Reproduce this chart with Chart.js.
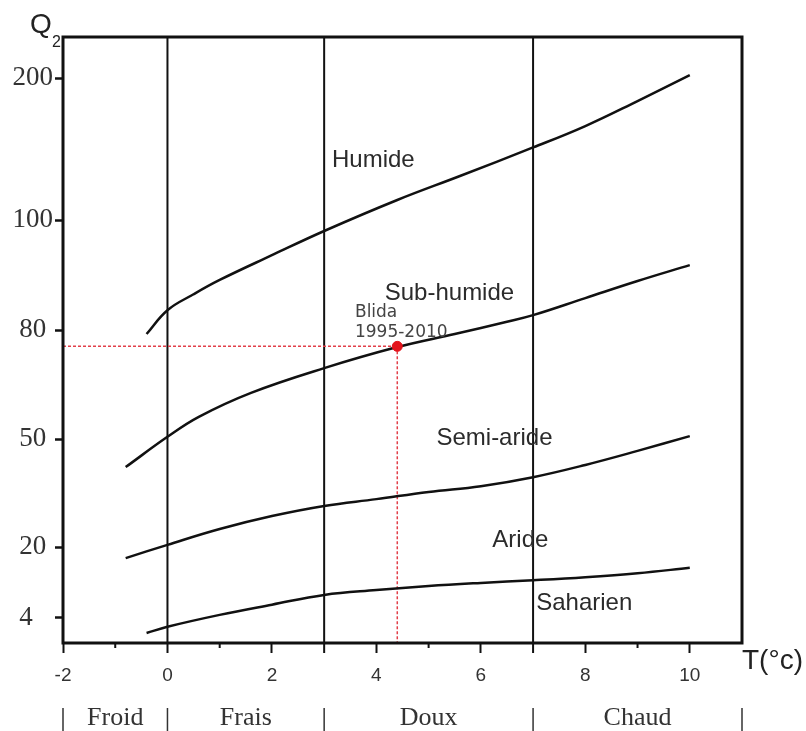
<!DOCTYPE html>
<html>
<head>
<meta charset="utf-8">
<script src="https://cdn.jsdelivr.net/npm/chart.js@4.4.1/dist/chart.umd.min.js"></script>
<style>
  html, body { margin: 0; padding: 0; background: #fff; }
  #wrap { width: 806px; height: 731px; position: relative; }
</style>
</head>
<body>
<div id="wrap"><canvas id="climagramme"></canvas></div>
<script>
// Q2 axis ticks (Emberger climagram, not linear)
const yTickValues = [4, 20, 50, 80, 100, 200];

// boundaries between the bioclimatic stages, T = m (°C), Q2
const humideT = [-0.4, 0, 0.5, 1, 2, 3, 4.4, 5.6, 7, 8, 9, 10];
const humideQ = [78.9, 83.6, 86.5, 89.1, 93.6, 98.0, 114.1, 131.0, 151.1, 166.2, 183.8, 202.1];

const subHumideT = [-0.8, 0, 0.6, 1.6, 3, 4.4, 5.5, 6.5, 7, 8, 9, 10];
const subHumideQ = [42.2, 50.6, 56.1, 62.7, 69.5, 75.3, 78.9, 81.5, 82.7, 85.8, 88.9, 91.8];

const semiArideT = [-0.8, 0, 1, 2, 3, 4, 5, 6, 7, 8, 9, 10];
const semiArideQ = [17.5, 20.6, 25.0, 28.6, 31.4, 33.3, 35.3, 36.9, 39.4, 42.8, 46.7, 50.8];

const arideT = [-0.4, 0, 1, 2, 3, 4, 5, 6, 7, 8, 9, 10];
const arideQ = [1.6, 2.6, 4.7, 7.0, 9.2, 10.3, 11.2, 11.9, 12.5, 13.2, 14.1, 15.3];

// station
const stationName = 'Blida';
const stationPeriod = '1995-2010';
const stationT = 4.4;
const stationQ2 = 75.5;

// stages and thermal variants
const stageNames = ['Humide', 'Sub-humide', 'Semi-aride', 'Aride', 'Saharien'];
const thermalNames = ['Froid', 'Frais', 'Doux', 'Chaud'];
const thermalBounds = [-2, 0, 3, 7, 11];

function pts(xs, ys) {
    return xs.map((t, i) => ({ x: t, y: ys[i] }));
}

// where each Q2 value sits along the axis (value, fraction of height)
const q2Stops = [[0, 0], [4, 0.0413], [20, 0.1584], [50, 0.3366], [80, 0.5165], [100, 0.698], [200, 0.9323], [230, 1]];

function q2ToDecimal(v) {
    for (let i = 1; i < q2Stops.length; i++) {
        const [v0, f0] = q2Stops[i - 1];
        const [v1, f1] = q2Stops[i];
        if (v <= v1 || i === q2Stops.length - 1) {
            return f0 + (v - v0) / (v1 - v0) * (f1 - f0);
        }
    }
    return 0;
}

function decimalToQ2(f) {
    for (let i = 1; i < q2Stops.length; i++) {
        const [v0, f0] = q2Stops[i - 1];
        const [v1, f1] = q2Stops[i];
        if (f <= f1 || i === q2Stops.length - 1) {
            return v0 + (f - f0) / (f1 - f0) * (v1 - v0);
        }
    }
    return 0;
}

class EmbergerScale extends Chart.LinearScale {
    buildTicks() {
        this.start = this.min;
        this.end = this.max;
        return yTickValues.map(v => ({ value: v }));
    }
    getPixelForValue(value) {
        return this.getPixelForDecimal(q2ToDecimal(value));
    }
    getValueForPixel(pixel) {
        return decimalToQ2(this.getDecimalForPixel(pixel));
    }
}
EmbergerScale.id = 'emberger';
EmbergerScale.defaults = Chart.LinearScale.defaults;
Chart.register(EmbergerScale);

const sans = '"Liberation Sans", Arial, sans-serif';
const serif = '"Liberation Serif", "Times New Roman", serif';

const textPlugin = {
    id: 'embergerText',
    afterDraw(chart) {
        const { ctx, chartArea: a } = chart;
        const x = chart.scales.x;
        const y = chart.scales.y;
        ctx.save();

        // frame
        ctx.strokeStyle = '#111';
        ctx.lineWidth = 3;
        ctx.strokeRect(a.left, a.top, a.right - a.left, a.bottom - a.top);

        // odd T ticks (long at the thermal bounds)
        ctx.lineWidth = 2;
        for (let t = -1; t < 11; t += 2) {
            const px = x.getPixelForValue(t);
            const len = thermalBounds.includes(t) ? 10 : 5;
            ctx.beginPath();
            ctx.moveTo(px, a.bottom);
            ctx.lineTo(px, a.bottom + len);
            ctx.stroke();
        }

        // stage names
        ctx.fillStyle = '#2b2b2b';
        ctx.font = '24px ' + sans;
        ctx.textAlign = 'left';
        ctx.textBaseline = 'middle';
        const anchors = [[3.15, 142], [4.16, 86.7], [5.15, 50.3], [6.22, 21.9], [7.06, 7.2]];
        stageNames.forEach((name, i) => {
            ctx.fillText(name, x.getPixelForValue(anchors[i][0]), y.getPixelForValue(anchors[i][1]));
        });

        // station label
        ctx.fillStyle = '#444';
        ctx.font = '17px "DejaVu Sans", Verdana, sans-serif';
        ctx.fillText(stationName, x.getPixelForValue(3.59), y.getPixelForValue(83.1));
        ctx.fillText(stationPeriod, x.getPixelForValue(3.59), y.getPixelForValue(79.4));

        // axis titles
        ctx.fillStyle = '#222';
        ctx.textBaseline = 'alphabetic';
        ctx.font = '28px ' + sans;
        ctx.fillText('Q', a.left - 33, 33);
        ctx.font = '16px ' + sans;
        ctx.fillText('2', a.left - 11, 47);
        ctx.font = '28px ' + sans;
        ctx.fillText('T(°c)', a.right, a.bottom + 26);

        // thermal variants under the axis
        ctx.fillStyle = '#333';
        ctx.strokeStyle = '#333';
        ctx.lineWidth = 1.5;
        ctx.font = '26px ' + serif;
        ctx.textAlign = 'center';
        thermalBounds.forEach(b => {
            const px = x.getPixelForValue(b);
            ctx.beginPath();
            ctx.moveTo(px, a.bottom + 65);
            ctx.lineTo(px, a.bottom + 88);
            ctx.stroke();
        });
        thermalNames.forEach((name, i) => {
            const mid = (thermalBounds[i] + thermalBounds[i + 1]) / 2;
            ctx.fillText(name, x.getPixelForValue(mid), a.bottom + 82);
        });

        ctx.restore();
    }
};

const curveStyle = {
    borderColor: '#111',
    borderWidth: 2.5,
    pointRadius: 0,
    tension: 0.4,
    fill: false
};

const datasets = [
    {
        label: stationName,
        data: [{ x: stationT, y: stationQ2 }],
        showLine: false,
        pointRadius: 5,
        pointBackgroundColor: '#e3141c',
        pointBorderColor: '#e3141c'
    },
    Object.assign({ label: 'Humide', data: pts(humideT, humideQ) }, curveStyle),
    Object.assign({ label: 'Sub-humide', data: pts(subHumideT, subHumideQ) }, curveStyle),
    Object.assign({ label: 'Semi-aride', data: pts(semiArideT, semiArideQ) }, curveStyle),
    Object.assign({ label: 'Aride', data: pts(arideT, arideQ) }, curveStyle),
    {
        label: 'repère Q2',
        data: [{ x: -2, y: stationQ2 }, { x: stationT, y: stationQ2 }],
        borderColor: '#e2404a',
        borderWidth: 1.5,
        borderDash: [3, 2],
        pointRadius: 0
    },
    {
        label: 'repère T',
        data: [{ x: stationT, y: stationQ2 }, { x: stationT, y: 0 }],
        borderColor: '#e2404a',
        borderWidth: 1.5,
        borderDash: [3, 2],
        pointRadius: 0
    }
];

// vertical lines between thermal variants
thermalBounds.slice(1, -1).forEach(b => {
    datasets.push({
        label: 'T = ' + b,
        data: [{ x: b, y: 0 }, { x: b, y: 230 }],
        borderColor: '#111',
        borderWidth: 2,
        pointRadius: 0
    });
});

const ctx = document.getElementById('climagramme').getContext('2d');
const chart = new Chart(ctx, {
    type: 'line',
    data: { datasets: datasets },
    options: {
        responsive: true,
        maintainAspectRatio: false,
        animation: false,
        layout: { padding: { left: 13, top: 37, right: 64, bottom: 0 } },
        plugins: {
            legend: { display: false },
            tooltip: { enabled: false }
        },
        scales: {
            x: {
                type: 'linear',
                min: -2,
                max: 11,
                afterFit: (scale) => { scale.height = 88; },
                border: { display: false },
                grid: {
                    drawOnChartArea: false,
                    drawTicks: true,
                    tickLength: 10,
                    tickWidth: 2,
                    tickColor: (c) => (c.tick && c.tick.value % 2 !== 0) ? 'rgba(0,0,0,0)' : '#111'
                },
                ticks: {
                    stepSize: 1,
                    autoSkip: false,
                    maxRotation: 0,
                    padding: 11,
                    color: '#333',
                    font: { family: sans, size: 19 },
                    callback: (v) => (v % 2 === 0 ? String(v) : '')
                }
            },
            y: {
                type: 'emberger',
                min: 0,
                max: 230,
                afterFit: (scale) => { scale.width = 50; },
                border: { display: false },
                grid: {
                    drawOnChartArea: false,
                    drawTicks: true,
                    tickLength: 8,
                    tickWidth: 2.5,
                    tickColor: '#111'
                },
                ticks: {
                    crossAlign: 'center',
                    padding: 2,
                    color: '#333',
                    font: { family: serif, size: 27 },
                    callback: (v) => (v < 10 ? String(v) + '  ' : String(v))
                }
            }
        }
    },
    plugins: [textPlugin]
});
</script>
</body>
</html>
